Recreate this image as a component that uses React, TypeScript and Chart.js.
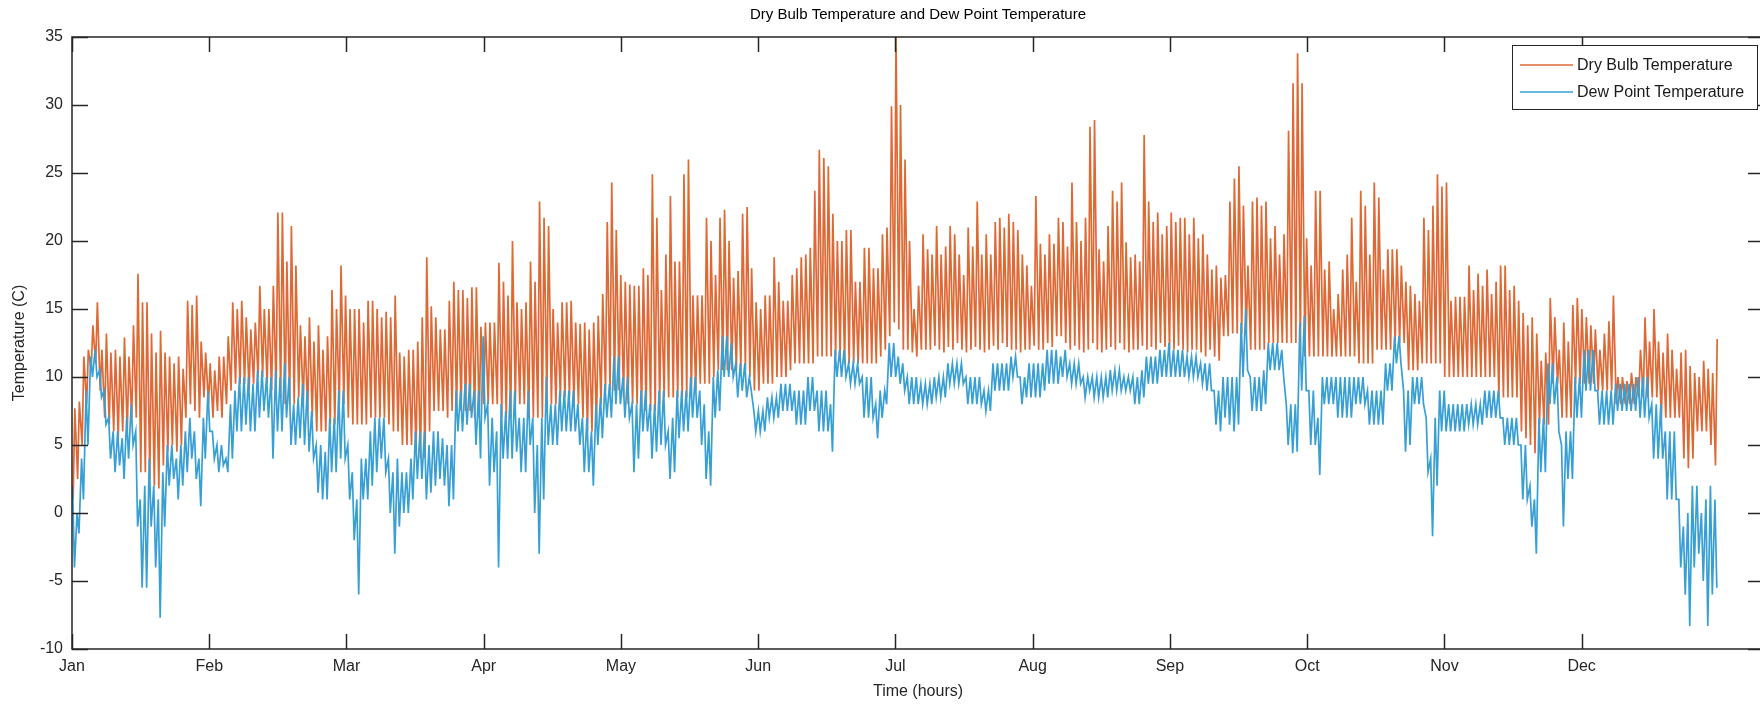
import React, { useEffect, useRef } from "react";
import { Chart, registerables } from "chart.js";

Chart.register(...registerables);

// ---------------- data ----------------
const monthLabels = ["Jan", "Feb", "Mar", "Apr", "May", "Jun", "Jul", "Aug", "Sep", "Oct", "Nov", "Dec"];
const monthTickHours = [0, 730, 1460, 2190, 2920, 3650, 4380, 5110, 5840, 6570, 7300, 8030];
const yTickValues = [-10, -5, 0, 5, 10, 15, 20, 25, 30, 35];

// hour of the day at which the daily extremes are placed
const dryBulbMinHour = 6;
const dryBulbMaxHour = 15;
const dewPointMaxHour = 3;
const dewPointMinHour = 13;

// daily maximum dry bulb temperature (C), day 0 .. 364
const dryBulbDailyMax = [
  7.7, 8.2, 11.5, 12, 13.8, 15.5, 12, 13.2, 11.8, 12,
  11.5, 12.9, 11.5, 13.8, 17.6, 15.5, 15.5, 13.2, 11.8, 13.4,
  11.8, 11.5, 11, 11.5, 10.6, 15.6, 15.3, 16, 12.6, 11.8,
  11, 10.5, 11.5, 11.5, 13, 15.5, 15, 15.6, 14.4, 13.5,
  14, 16.7, 15, 15, 16.7, 22.1, 22.1, 18.5, 21.1, 18.2,
  13.8, 13, 14.4, 12.6, 13.8, 12, 13, 16.4, 15, 18.2,
  16, 15, 15, 15, 14, 15.6, 15.6, 15, 14.4, 14.8,
  14.4, 16, 11.8, 11.5, 12, 12, 12.6, 14.4, 18.8, 15.2,
  14.4, 13.5, 13.5, 15.6, 17, 16.4, 16.4, 15.8, 16.6, 16.6,
  13.7, 14, 14, 14, 18.4, 17, 16, 20, 15.5, 15,
  15.5, 18.5, 17, 22.9, 21.7, 21.1, 15, 14, 15.5, 15.5,
  15.6, 14, 13.9, 14, 13.5, 14, 14.5, 16.1, 21.4, 24.3,
  20.8, 17.5, 17, 16.8, 16.7, 16.7, 18, 17.5, 24.9, 21.7,
  16.4, 19, 23.3, 18.5, 18.5, 24.9, 26, 16, 16, 16,
  21.7, 20, 17.5, 21.7, 22.3, 20, 17.3, 17.8, 22, 22.5,
  18, 15.5, 15, 16, 16, 18.8, 17, 15.6, 15.6, 17.5,
  18, 18.8, 19, 19.5, 23.7, 26.7, 26.1, 25.5, 22, 20,
  20, 20.8, 20.8, 17, 17, 19.5, 19.5, 18, 18, 20.5,
  21, 29.9, 35, 30, 26, 20, 15, 16.7, 20.5, 19.4,
  19, 21.1, 19, 19.6, 21.1, 20.5, 19, 17.5, 21, 19.6,
  22.9, 19, 20.5, 19, 21.4, 21.7, 21, 22, 21.4, 20.8,
  19, 18.2, 16.7, 23.3, 19.8, 19, 20.5, 19.8, 21.7, 21.4,
  19.6, 24.3, 21.4, 20, 21.7, 28.4, 28.9, 19.4, 18.5, 21.1,
  23.7, 22.9, 24.3, 19.9, 18.8, 19, 18.5, 27.8, 22.9, 21.4,
  22.1, 20.5, 21.1, 22.1, 21.4, 21.7, 21.7, 20.5, 21.7, 20.2,
  20.5, 19, 17.9, 18.2, 17.3, 17.5, 22.9, 24.6, 25.5, 22.6,
  18.2, 22.9, 23.2, 22.6, 22.9, 20.2, 21.1, 19, 20.5, 28.1,
  31.6, 33.8, 31.6, 20.2, 18.2, 23.7, 23.7, 17.9, 18.5, 15,
  16.1, 17.9, 19, 21.7, 17, 23.7, 22.6, 19, 24.3, 23.2,
  17.9, 19.4, 19.4, 19.4, 18.2, 17, 16.7, 16.1, 15.6, 21.7,
  20.8, 22.6, 24.9, 24, 24.3, 15.6, 15.9, 15.9, 15.9, 18.2,
  16.4, 17.6, 16.7, 17.9, 16.1, 17, 18.2, 18.2, 16.4, 16.7,
  15.6, 14.7, 13.8, 14.4, 13.2, 11.2, 11.8, 15.8, 14.4, 12,
  14, 12.6, 15.3, 15.8, 15, 14.4, 13.8, 13.5, 12, 13.2,
  14.1, 16, 10, 10, 9.7, 10.3, 10, 12, 14.4, 12.6,
  15, 12.6, 11.8, 13.2, 12, 10.6, 11.8, 12, 10.8, 10.3,
  10, 11.2, 10.6, 10.3, 12.8,
];

// daily minimum dry bulb temperature (C)
const dryBulbDailyMin = [
  1, 2.5, 5, 8, 10.5, 11, 9, 7, 6.5, 6,
  5.5, 6, 6, 7, 7, 3, 3, 2.5, 2, 1.8,
  3.5, 4.5, 5, 4.5, 5, 7, 8, 7.5, 7, 8.5,
  8, 7, 7.5, 7, 8, 9, 9.5, 9.5, 9.5, 9,
  9.5, 10, 10, 9.5, 9, 9, 8.5, 8, 8, 8,
  8.5, 8, 7.5, 7, 6, 6, 6, 6.5, 6.5, 8,
  8, 7, 6.5, 6.5, 6.5, 6.5, 7, 7, 7, 7,
  6.5, 6, 6, 5, 5, 5, 4.5, 4, 4, 6,
  7.5, 7.5, 7.5, 7, 7.5, 7.5, 7.5, 7.5, 7.5, 7,
  7, 8, 8, 8, 8, 7, 7, 7, 8, 8,
  8, 7, 7, 7, 7, 8, 8, 8, 8.5, 8.5,
  8.5, 8, 8, 7, 6, 6, 6.5, 8, 9, 9,
  9, 9, 8.5, 8, 8, 8, 7.5, 7.5, 7.5, 7.5,
  8, 8.5, 8.5, 8.5, 8.5, 8.5, 8.5, 8.5, 9, 9.5,
  9.5, 9.5, 10, 10.5, 10.5, 10.5, 10.5, 10.5, 10.5, 10.5,
  10, 9, 9, 9.5, 9.5, 9.5, 10, 10, 10, 10.5,
  11, 11, 11, 11, 11, 11.5, 11.5, 11.5, 11.5, 11.5,
  11.5, 11, 11, 11, 11, 11, 11, 11, 11, 11.5,
  12, 13, 14, 13.5, 12, 12, 11.8, 11.5, 12, 12,
  12, 12.3, 12, 11.8, 12.2, 12, 12.5, 12, 11.8, 12,
  12.2, 12, 11.8, 12, 12.3, 12, 12.5, 12.2, 12, 12,
  11.8, 12, 12, 12.3, 12, 12, 12.5, 12.2, 13, 13,
  12.5, 12, 12.3, 12, 11.8, 12, 12.5, 12, 11.8, 12,
  12.2, 12, 12.5, 12, 11.8, 12, 12, 12.3, 12, 12.2,
  12, 12.5, 12.2, 12, 12, 12.3, 12, 11.8, 12, 12,
  11.8, 11.5, 12, 11.5, 11.2, 13, 13, 13.2, 13.2, 13.2,
  13.2, 12, 12, 12, 12, 12.5, 12.5, 12.5, 12.5, 12.5,
  12.5, 12.5, 12, 11.5, 11.5, 11.5, 11.5, 11.5, 11.5, 11.5,
  11.5, 11.5, 11.5, 11.5, 11.5, 11, 11, 11, 11, 12,
  12, 12, 12, 12.5, 12.5, 12.5, 10.5, 10.5, 10.5, 11,
  11, 11, 11, 11, 10, 10, 10, 10, 10, 10,
  10, 10, 10, 10, 10, 10, 8.5, 8.5, 8.5, 8.5,
  8.5, 6, 5.5, 5, 4.4, 6.5, 6.5, 6.5, 9.5, 9.5,
  7, 7, 7, 9.5, 9.5, 9.5, 9.5, 9.5, 9, 9,
  9, 9, 8, 8, 8, 8, 8, 8.5, 8.5, 8.5,
  8.5, 8.5, 7, 7, 7, 7, 7, 4, 3.3, 4,
  6, 6, 6, 5, 3.5,
];

// daily maximum dew point temperature (C)
const dewPointDailyMax = [
  2, 0, 4, 9, 11.5, 12, 10.5, 9, 7, 6,
  6, 5.5, 7, 8, 6, 1, 2, 4, 2, 1,
  3, 5, 5, 4, 5, 6, 7, 6, 4, 7,
  9, 6, 5, 5, 4, 8, 9, 10, 10, 10,
  9.5, 10.5, 10.5, 10, 10, 10.5, 10, 11, 10, 8,
  8.5, 9.5, 9, 7.5, 5, 5, 4.5, 7, 7, 9,
  9, 5, 3, 1, 4, 4, 6, 7, 7, 7,
  4, 3, 4, 3, 3, 4, 6, 6, 6, 5,
  6, 6, 5.5, 5, 5, 9, 9, 9.5, 9.5, 9,
  9, 13, 8, 7, 6, 8, 7.5, 9, 9, 7,
  7, 9, 7, 5, 7, 10, 8, 8, 9, 9,
  9, 9, 8, 7, 7, 6, 8, 8.5, 9.5, 9.5,
  11.5, 11.5, 10, 10, 8, 8, 9, 9, 8, 8,
  9, 9, 6, 7, 9, 9, 9, 10, 10, 9,
  8, 6, 10, 10.5, 13, 13, 12.5, 11, 11, 11,
  10, 7.5, 7.5, 7.5, 8.5, 8.5, 8.5, 9.5, 9.5, 9.5,
  9, 9, 9, 10, 10, 9, 9, 9, 8, 12,
  12, 12, 11, 11, 11, 10, 10, 10, 8, 9,
  9, 12.5, 12.5, 11.5, 11, 10, 10, 10, 9.5, 9.5,
  9.5, 10, 10, 10, 11, 11, 11, 11, 10, 10,
  10, 10, 9, 9, 11, 11, 11, 11, 11.5, 11.5,
  10, 10, 11, 11, 11, 11, 12, 12, 12, 11.5,
  12, 11, 11, 11, 10, 10, 10, 10, 10, 10,
  10.5, 10.5, 10.5, 10, 10, 10, 10, 10.5, 11.5, 11.5,
  11.5, 12, 12, 12.5, 12, 12, 12, 11.5, 11.5, 11.5,
  11, 11, 11, 9, 9, 10, 10, 10, 10, 14,
  15, 10, 10, 10, 10.5, 12.5, 12.5, 12.5, 12, 8,
  8, 8, 14, 14.5, 9, 9, 7, 10, 10, 10,
  10, 10, 10, 10, 10, 10, 10, 9, 9, 9,
  9, 11, 11, 13, 13, 9, 9, 10, 10, 10,
  7, 4, 7, 9, 9, 8, 8, 8, 8, 8,
  8, 8, 8, 9, 9, 9, 9, 7, 7, 7,
  7, 5, 5, 2, 1, 7, 7, 11, 11, 10,
  5, 6, 6, 10, 10, 12, 12, 12, 9, 9,
  9, 9, 9.5, 9.5, 9.5, 9.5, 9.5, 10, 10, 10,
  8, 8, 8, 6, 6, 6, 1, -1, 0, 2,
  2, 0, 1, 2, 1,
];

// daily minimum dew point temperature (C)
const dewPointDailyMin = [
  -4, -1.5, 1, 5, 10, 10, 8.5, 6.5, 4, 3,
  3.5, 2.5, 4, 5, -1, -5.5, -5.5, -1, -4, -7.7,
  -1, 2, 2.5, 1, 2, 3, 4, 2.5, 0.5, 4,
  6, 4, 3, 3.5, 3, 4, 6, 6, 6.5, 6,
  6, 7, 7.5, 7, 4, 6, 6, 7, 5, 5,
  5.5, 5, 4.5, 4, 1.5, 1, 1, 3, 3, 4,
  4, 1, -2, -6, 1, 1, 2, 3, 4, 3,
  0, -3, -1, 0, 0, 1, 2.5, 2.5, 1, 1.5,
  2, 2.5, 2, 0.5, 1, 6, 6, 6.5, 7, 5,
  4, 7, 2, 3, -4, 4, 4, 4, 4.5, 3,
  3, 5, 0, -3, 1, 5, 5, 5, 6, 6,
  6, 6, 5, 3, 3, 2, 5, 5.5, 7, 7,
  8, 8, 7, 7, 3, 4, 6, 6, 4, 4.5,
  5, 5, 2.5, 3, 5.5, 6, 6, 7, 7, 5,
  2.5, 2, 7, 7.5, 10, 10, 10, 8.5, 9, 8.5,
  9, 6, 6, 6, 7, 7, 7, 7.5, 7.5, 7.5,
  6.5, 6.5, 6.5, 7.5, 7.5, 6, 6, 6, 4.5, 10,
  10, 10, 9.5, 9.5, 9.5, 7, 7, 7, 5.5, 7,
  8, 10, 10, 9.5, 9, 8, 8, 8, 8, 8,
  8, 8.5, 8.5, 8.5, 9.5, 9.5, 9.5, 9.5, 8, 8,
  8, 8, 7.5, 7.5, 9, 9, 9, 9, 10, 10,
  8, 8.5, 8.5, 8.5, 8.5, 9, 9.5, 9.5, 9.5, 10,
  10, 9.5, 9.5, 9.5, 8.5, 9, 8.5, 8.5, 8.5, 8.5,
  9, 9, 9, 9, 9, 8, 8, 8.5, 9.5, 9.5,
  9.5, 10, 10, 10, 10, 10, 10, 10, 10, 10,
  9.5, 9, 9, 6.5, 6, 7, 6.5, 6, 6.5, 10,
  10.5, 7.5, 7.5, 7.5, 8, 10.5, 10.5, 10.5, 10, 5,
  4.4, 4.5, 9, 9, 5, 5, 2.8, 8, 8, 8,
  7, 7, 7, 7, 8, 8, 8, 6.5, 6.5, 6.5,
  6.5, 9, 9, 11, 11, 4.5, 5, 8, 8, 8,
  3, -1.7, 2, 6, 6, 6, 6, 6, 6, 6.5,
  6.5, 6.5, 6.5, 7, 7, 7, 7, 5, 5, 5,
  5, 1, 1, -1, -3, 3, 3, 8, 8, 6,
  -1, 2.5, 2.5, 7, 7, 9, 9, 9, 6.5, 6.5,
  6.5, 6.5, 7.5, 7.5, 7.5, 7.5, 7.5, 7, 7, 7,
  4, 4, 4, 1, 1, 1, -4, -6, -8.3, -4,
  -3, -5, -8.3, -6, -5.5,
];

// ---------------- layout / style ----------------
const CANVAS_W = 1766;
const CANVAS_H = 704;
const FONT = '"Liberation Sans", Arial, Helvetica, sans-serif';
const DRY_COLOR = "#DE6935";
const DEW_COLOR = "#389FD4";
const AXIS_COLOR = "#262626";

function buildSeries(low: number[], high: number[], lowHour: number, highHour: number) {
  const pts: { x: number; y: number }[] = [];
  for (let d = 0; d < low.length; d++) {
    const a = { x: d * 24 + lowHour, y: low[d] };
    const b = { x: d * 24 + highHour, y: high[d] };
    if (lowHour < highHour) pts.push(a, b);
    else pts.push(b, a);
  }
  return pts;
}

const framePlugin = {
  id: "matlabFrame",
  afterDraw(chart: any) {
    const { ctx, chartArea: a, scales } = chart;
    const xs = scales.x;
    const ys = scales.y;
    ctx.save();
    const line = (x1: number, y1: number, x2: number, y2: number) => {
      ctx.beginPath();
      ctx.moveTo(x1, y1);
      ctx.lineTo(x2, y2);
      ctx.stroke();
    };
    ctx.strokeStyle = AXIS_COLOR;
    ctx.lineWidth = 1.5;
    ctx.strokeRect(a.left, a.top, a.right - a.left, a.bottom - a.top);
    yTickValues.forEach((v) => {
      const py = Math.round(ys.getPixelForValue(v)) + 0.5;
      line(a.left, py, a.left + 16, py);
      line(a.right, py, a.right - 16, py);
    });
    monthTickHours.forEach((h) => {
      const px = Math.round(xs.getPixelForValue(h)) + 0.5;
      line(px, a.bottom, px, a.bottom - 15);
      line(px, a.top, px, a.top + 15);
    });

    const cx = (a.left + a.right) / 2;
    ctx.fillStyle = "#000";
    ctx.textBaseline = "middle";
    ctx.textAlign = "center";
    ctx.font = `15px ${FONT}`;
    ctx.fillText("Dry Bulb Temperature and Dew Point Temperature", cx, 15);
    ctx.fillStyle = AXIS_COLOR;
    ctx.font = `16px ${FONT}`;
    ctx.fillText("Time (hours)", cx, 692);
    ctx.save();
    ctx.translate(20, (a.top + a.bottom) / 2);
    ctx.rotate(-Math.PI / 2);
    ctx.fillText("Temperature (C)", 0, 0);
    ctx.restore();

    // legend
    const lx = 1512, ly = 45, lw = 245, lh = 64;
    ctx.fillStyle = "#fff";
    ctx.fillRect(lx, ly, lw, lh);
    ctx.strokeStyle = AXIS_COLOR;
    ctx.lineWidth = 1;
    ctx.strokeRect(lx + 0.5, ly + 0.5, lw, lh);
    const entries = [
      { label: "Dry Bulb Temperature", color: DRY_COLOR, y: 65 },
      { label: "Dew Point Temperature", color: DEW_COLOR, y: 92 },
    ];
    entries.forEach((e) => {
      ctx.strokeStyle = e.color;
      ctx.lineWidth = 1.5;
      line(1520, e.y, 1573, e.y);
      ctx.fillStyle = "#1a1a1a";
      ctx.textAlign = "left";
      ctx.font = `16px ${FONT}`;
      ctx.fillText(e.label, 1577, e.y + 1);
    });
    ctx.restore();
  },
};

export default function App() {
  const canvasRef = useRef<HTMLCanvasElement | null>(null);

  useEffect(() => {
    const canvas = canvasRef.current;
    if (!canvas) return;
    const dry = buildSeries(dryBulbDailyMin, dryBulbDailyMax, dryBulbMinHour, dryBulbMaxHour);
    const dew = buildSeries(dewPointDailyMin, dewPointDailyMax, dewPointMinHour, dewPointMaxHour);
    const tickFont = { family: FONT, size: 16 };

    const chart = new Chart(canvas, {
      type: "line",
      data: {
        datasets: [
          {
            label: "Dry Bulb Temperature",
            data: dry,
            borderColor: DRY_COLOR,
            borderWidth: 1.7,
            pointRadius: 0,
            tension: 0,
            fill: false,
            order: 1,
          },
          {
            label: "Dew Point Temperature",
            data: dew,
            borderColor: DEW_COLOR,
            borderWidth: 1.7,
            pointRadius: 0,
            tension: 0,
            fill: false,
            order: 0,
          },
        ],
      },
      options: {
        responsive: false,
        animation: false,
        devicePixelRatio: 1,
        events: [],
        layout: { padding: { top: 37, right: 2, left: 0, bottom: 0 } },
        plugins: {
          legend: { display: false },
          title: { display: false },
          tooltip: { enabled: false },
        },
        scales: {
          x: {
            type: "linear",
            min: 0,
            max: 9000,
            grid: { display: false, drawTicks: false },
            border: { display: false },
            afterBuildTicks: (s: any) => {
              s.ticks = monthTickHours.map((v) => ({ value: v }));
            },
            afterFit: (s: any) => {
              s.height = 55;
            },
            ticks: {
              autoSkip: false,
              maxRotation: 0,
              padding: 8,
              color: AXIS_COLOR,
              font: tickFont,
              callback: (_v: any, i: number) => monthLabels[i],
            },
          },
          y: {
            type: "linear",
            min: -10,
            max: 35,
            grid: { display: false, drawTicks: false },
            border: { display: false },
            afterBuildTicks: (s: any) => {
              s.ticks = yTickValues.map((v) => ({ value: v }));
            },
            afterFit: (s: any) => {
              s.width = 72;
            },
            ticks: {
              padding: 9,
              color: AXIS_COLOR,
              font: tickFont,
              callback: (v: any) => String(v),
            },
          },
        },
      },
      plugins: [framePlugin],
    } as any);

    return () => chart.destroy();
  }, []);

  return (
    <div
      style={{
        position: "absolute",
        left: 0,
        top: 0,
        width: 1760,
        height: 704,
        overflow: "hidden",
        background: "#fff",
      }}
    >
      <canvas
        ref={canvasRef}
        width={CANVAS_W}
        height={CANVAS_H}
        style={{ display: "block", width: CANVAS_W, height: CANVAS_H }}
      />
    </div>
  );
}
